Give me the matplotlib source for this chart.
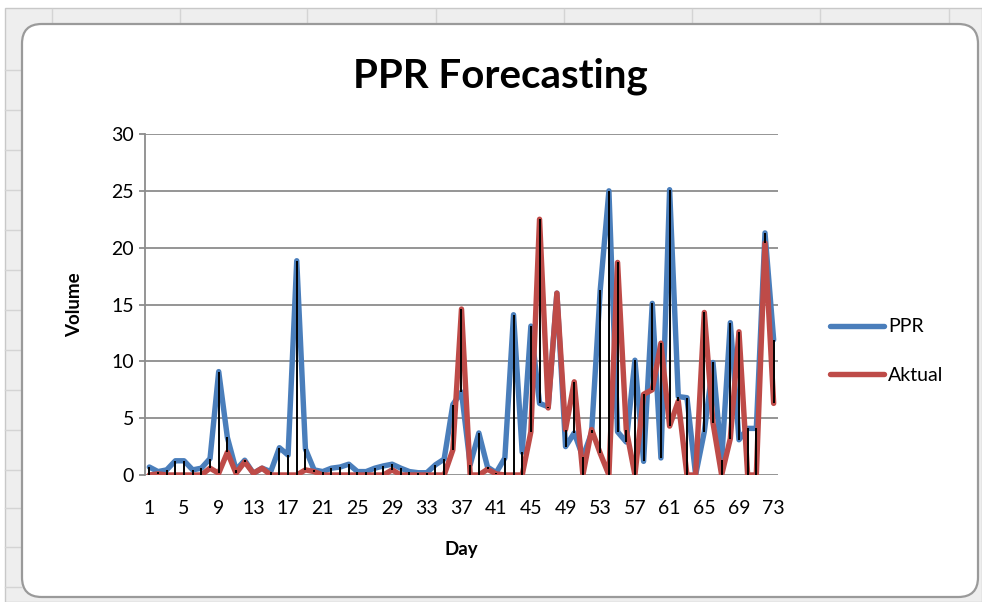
import matplotlib
matplotlib.use("Agg")
import matplotlib.pyplot as plt
from matplotlib.patches import FancyBboxPatch, Rectangle
from matplotlib.lines import Line2D
import numpy as np

plt.rcParams['font.family'] = ['Lato', 'DejaVu Sans']

days = np.arange(1, 74)
ppr = [0.7, 0.3, 0.45, 1.25, 1.25, 0.45, 0.6, 1.45, 9.1, 3.3,
       0.45, 1.3, 0.15, 0.6, 0.3, 2.4, 1.75, 18.85, 2.3, 0.45,
       0.3, 0.6, 0.7, 0.95, 0.3, 0.3, 0.6, 0.8, 0.95, 0.6,
       0.3, 0.2, 0.2, 0.9, 1.4, 6.2, 7.3, 0.9, 3.7, 0.7,
       0.2, 1.5, 14.1, 2.0, 13.1, 6.3, 6.0, 16.0, 2.5, 3.7,
       1.6, 3.7, 16.3, 25.0, 3.8, 2.9, 10.1, 1.2, 15.1, 1.5,
       25.1, 6.9, 6.8, 0.0, 3.8, 9.9, 1.3, 13.4, 3.1, 4.1,
       4.1, 21.3, 11.9]
aktual = [0.0, 0.1, 0.0, 0.0, 0.0, 0.0, 0.0, 0.6, 0.15, 2.0,
          0.15, 1.15, 0.15, 0.6, 0.0, 0.0, 0.0, 0.0, 0.45, 0.3,
          0.0, 0.0, 0.0, 0.0, 0.0, 0.0, 0.0, 0.0, 0.45, 0.0,
          0.0, 0.0, 0.0, 0.0, 0.0, 2.2, 14.6, 0.0, 0.0, 0.5,
          0.1, 0.0, 0.0, 0.0, 3.8, 22.5, 5.9, 16.0, 4.0, 8.2,
          0.0, 4.0, 1.9, 0.0, 18.7, 4.0, 0.0, 7.1, 7.5, 11.6,
          4.3, 6.5, 0.0, 0.0, 14.3, 4.6, 0.0, 3.2, 12.6, 0.0,
          0.0, 20.4, 6.3]
x_ticks = list(range(1, 74, 4))
y_ticks = [0, 5, 10, 15, 20, 25, 30]

W, H = 982, 602
fig = plt.figure(figsize=(W / 100, H / 100), dpi=100)
fig.patch.set_facecolor('white')


def fx(px):
    return px / W


def fy(py):
    return 1 - py / H


# spreadsheet strip behind the chart
fig.patches.append(Rectangle((fx(5), fy(602)), fx(977), 594 / H, transform=fig.transFigure,
                             facecolor='#eeeeee', edgecolor='#c8c8c8', lw=1, zorder=0))
for cx in [52, 180, 307, 436, 564, 692, 820, 949]:
    fig.lines.append(Line2D([fx(cx), fx(cx)], [fy(9), fy(24)], transform=fig.transFigure,
                            color='#d4d4d4', lw=1, zorder=0.5))
for cy in [70, 110, 150, 190, 230, 270, 310, 350, 390, 430, 470, 508, 547, 587]:
    fig.lines.append(Line2D([fx(5), fx(21)], [fy(cy), fy(cy)], transform=fig.transFigure,
                            color='#d4d4d4', lw=1, zorder=0.5))

# chart area
fig.patches.append(FancyBboxPatch((fx(22), fy(597)), fx(956), 573 / H,
                                  boxstyle='round,pad=0,rounding_size=0.02',
                                  transform=fig.transFigure, mutation_aspect=W / H,
                                  facecolor='white', edgecolor='#9a9a9a', lw=1.6, zorder=1))

ax = fig.add_axes([fx(145), fy(475), fx(633), (475 - 134) / H])
ax.set_facecolor('none')
ax.set_zorder(2)

ax.plot(days, ppr, color='#4a7ebb', lw=3.9, solid_joinstyle='round',
        solid_capstyle='round', label='PPR', zorder=3)
ax.plot(days, aktual, color='#be4b48', lw=3.9, solid_joinstyle='round',
        solid_capstyle='round', label='Aktual', zorder=4)
ax.vlines(days, np.minimum(ppr, aktual), np.maximum(ppr, aktual),
          color='black', lw=1.4, zorder=5)

ax.set_xlim(0.5, 73.5)
ax.set_ylim(0, 30)
ax.set_yticks(y_ticks)
ax.set_xticks(x_ticks)
ax.yaxis.grid(True, color='#8c8c8c', lw=1.3)
ax.set_axisbelow(True)
for s in ['top', 'right', 'bottom']:
    ax.spines[s].set_visible(False)
ax.spines['left'].set_color('#8c8c8c')
ax.spines['left'].set_linewidth(1.3)
ax.tick_params(axis='y', length=4, color='#8c8c8c', width=1.3, pad=4, labelsize=14)
ax.tick_params(axis='x', length=0, pad=18, labelsize=14)

ax.set_xlabel('Day', fontsize=13.5, fontweight='bold', labelpad=17)
ax.set_ylabel('Volume', fontsize=13.5, fontweight='bold', labelpad=20)

fig.text(fx(500), fy(76), 'PPR Forecasting', ha='center', va='center',
         fontsize=29, fontweight='bold')

ax.legend(loc='center left', bbox_to_anchor=(fx(822), fy(351)), bbox_transform=fig.transFigure,
          frameon=False, fontsize=14, handlelength=2.8, handletextpad=0.2,
          labelspacing=1.6, borderaxespad=0)

fig.savefig('out.png', dpi=100)
